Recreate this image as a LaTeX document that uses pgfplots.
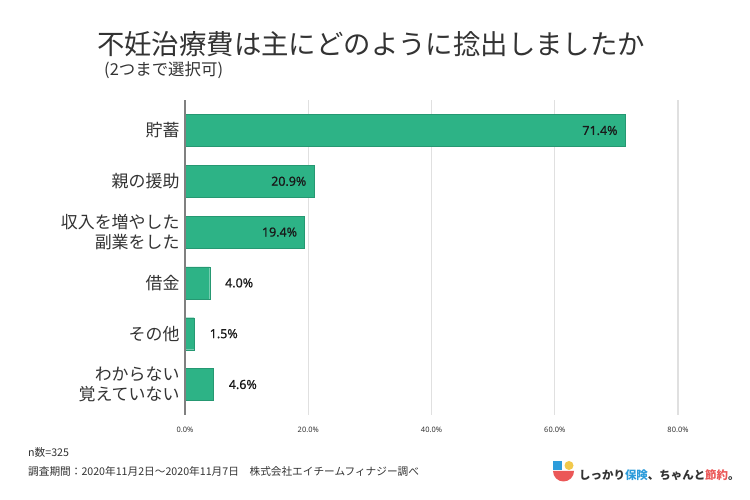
\documentclass[border=0pt]{standalone}
\usepackage{pgfplots}
\pgfplotsset{compat=1.18}
\usepackage{fontspec}
\setmainfont{Noto Sans CJK JP}
\newfontfamily\numfont{Noto Sans}[FakeBold=0.6]
\newfontfamily\tickfont{Noto Sans}
\definecolor{barc}{HTML}{2DB386}
\definecolor{gridc}{HTML}{E0E0E0}
\definecolor{txt}{HTML}{333333}
\definecolor{logob}{HTML}{2D9CDB}
\definecolor{logor}{HTML}{EB5757}
\definecolor{logoy}{HTML}{F2C94C}
\begin{document}
\begin{tikzpicture}
\useasboundingbox[fill=white] (0bp,0bp) rectangle (750bp,500bp);
\coordinate (AX) at (185bp,85bp);
% titles
\node[anchor=west, text=txt, inner sep=0, font=\fontsize{27.5}{27.5}\selectfont] at (97bp,456bp) {不妊治療費は主にどのように捻出しましたか};
\node[anchor=west, text=txt, inner sep=0, font=\fontsize{16.5}{16.5}\selectfont] at (104bp,430bp) {(2つまで選択可)};
\begin{axis}[
  at={(AX)}, anchor=south west,
  scale only axis, width=493bp, height=315bp,
  xmin=0, xmax=80, ymin=-0.6, ymax=5.6, y dir=reverse,
  xtick={0,20,40,60,80},
  xticklabel={\pgfmathprintnumber[fixed,fixed zerofill,precision=1]{\tick}\%},
  /pgf/number format/assume math mode=true,
  xticklabel style={font=\tickfont\fontsize{7.5}{8}\selectfont, text=txt, yshift=-9bp},
  ytick={0,...,5},
  yticklabels={貯蓄,親の援助,{収入を増やした\\副業をした},借金,その他,{わからない\\覚えていない}},
  yticklabel style={align=right, font=\fontsize{17}{20}\selectfont, text=txt, xshift=-2bp},
  major tick length=0pt,
  xmajorgrids, grid style={gridc, line width=1.2bp},
  axis line style={draw=none},
  clip=false,
]
\addplot[xbar, bar width=0.63, bar shift=0pt, fill=barc, draw=barc!85!black, line width=0.3bp]
  coordinates {(71.4,0) (20.9,1) (19.4,2) (4.0,3) (1.5,4) (4.6,5)};
\addplot[draw=none, mark=none, point meta=x,
  nodes near coords={\pgfmathprintnumber[fixed,fixed zerofill,precision=1]{\pgfplotspointmeta}\%},
  every node near coord/.style={anchor=east, xshift=-4bp, font=\numfont\fontsize{12.5}{12.5}\selectfont, text=black!90}]
  coordinates {(71.4,0) (20.9,1) (19.4,2)};
\addplot[draw=none, mark=none, point meta=x,
  nodes near coords={\pgfmathprintnumber[fixed,fixed zerofill,precision=1]{\pgfplotspointmeta}\%},
  every node near coord/.style={anchor=west, xshift=12bp, font=\numfont\fontsize{12.5}{12.5}\selectfont, text=black!90}]
  coordinates {(4.0,3) (1.5,4) (4.6,5)};
\draw[gray, line width=1.5bp] (axis cs:0,-0.6) -- (axis cs:0,5.6);
\end{axis}
% footer
\node[anchor=west, text=txt, inner sep=0, font=\fontsize{10.7}{10.7}\selectfont] at (28bp,48bp) {n数=325};
\node[anchor=west, text=txt, inner sep=0, font=\fontsize{10.7}{10.7}\selectfont] at (28bp,29bp) {調査期間：2020年11月2日〜2020年11月7日\quad 株式会社エイチームフィナジー調べ};
% logo
\fill[logob] (553bp,30bp) rectangle (562bp,39bp);
\fill[logoy] (569bp,34.5bp) circle (4.5bp);
\fill[logor] (553bp,29bp) -- (574bp,29bp) arc (0:-180:10.5bp) -- cycle;
\node[anchor=west, inner sep=0, font=\bfseries\fontsize{11.5}{11.5}\selectfont, text=txt] at (579bp,24.5bp)
  {しっかり\textcolor{logob}{保険}、ちゃんと\textcolor{logor}{節約}。};
\end{tikzpicture}
\end{document}
